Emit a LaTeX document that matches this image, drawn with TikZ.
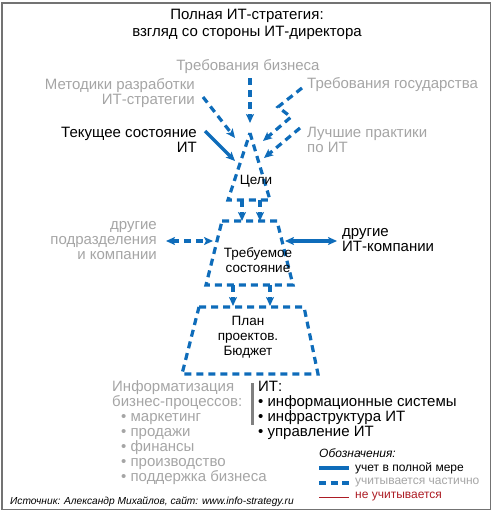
\documentclass[tikz,border=0pt]{standalone}
\usepackage{fontspec}
\setmainfont{Liberation Sans}
\usetikzlibrary{arrows.meta,positioning}
\definecolor{itblue}{RGB}{14,108,186}
\definecolor{txtgray}{RGB}{165,165,165}
\definecolor{framegray}{RGB}{115,115,115}
\definecolor{bargray}{RGB}{128,128,128}
\definecolor{legred}{RGB}{172,28,36}

\begin{document}
\begin{tikzpicture}[x=1pt,y=-1pt,
    txt/.style={inner sep=0pt, align=center, font=\fontsize{15}{15}\selectfont},
    greytxt/.style={txt, text=txtgray},
    innertxt/.style={txt, font=\fontsize{13.5}{15}\selectfont},
    legtxt/.style={inner sep=0pt, font=\fontsize{12}{14}\selectfont},
    fullline/.style={draw=itblue, line width=3.2pt},
    partline/.style={fullline, dash pattern=on 7pt off 5pt},
    arr/.style={-{Stealth[length=9pt,width=8pt,inset=2pt]}},
    darr/.style={{Stealth[length=9pt,width=8pt,inset=2pt]}-{Stealth[length=9pt,width=8pt,inset=2pt]}}]
  \useasboundingbox (0,0) rectangle (493,511);
  \draw[framegray, line width=1.6pt] (2,3) rectangle (490.5,509.5);

  % nodes
  \node[txt, font=\fontsize{15}{17}\selectfont] (title) at (247,24.5) {Полная ИТ-стратегия:\\взгляд со стороны ИТ-директора};
  \node[greytxt] (bus) at (248,67) {Требования бизнеса};
  \node[greytxt, align=right, anchor=east] (meth) at (195,93) {Методики разработки\\ИТ-стратегии};
  \node[greytxt, anchor=west] (gov) at (307,85) {Требования государства};
  \node[txt, align=right, anchor=east] (cur) at (197,140) {Текущее состояние\\ИТ};
  \node[greytxt, align=left, anchor=west] (best) at (307,140) {Лучшие практики\\по ИТ};
  \node[greytxt, align=right, anchor=east] (dept) at (157,240.5) {другие\\подразделения\\и компании};
  \node[txt, align=left, anchor=west] (itco) at (342,240.5) {другие\\ИТ-компании};

  % goals, required state, plan
  \coordinate (g1) at (250,133); \coordinate (g2) at (270,200); \coordinate (g3) at (228,200);
  \draw[partline] (g1) -- (g2) -- (g3) -- cycle;
  \node[innertxt] (goal) at (256,181) {Цели};
  \coordinate (r1) at (222,221); \coordinate (r2) at (277,221);
  \coordinate (r3) at (293,285); \coordinate (r4) at (206,285);
  \draw[partline] (r1) -- (r2) -- (r3) -- (r4) -- cycle;
  \node[innertxt] (req) at (258,260.5) {Требуемое\\состояние};
  \coordinate (p1) at (199,307); \coordinate (p2) at (304,307);
  \coordinate (p3) at (318,374); \coordinate (p4) at (182,374);
  \draw[partline] (p1) -- (p2) -- (p3) -- (p4) -- cycle;
  \node[innertxt] (plan) at (248,337.5) {План\\проектов.\\Бюджет};

  % edges
  \coordinate (bus0) at (250,78);  \coordinate (bus1) at (250,123);
  \coordinate (meth0) at (203,97); \coordinate (meth1) at (235,138);
  \coordinate (gov0) at (302,88);  \coordinate (gov1) at (263,141);
  \coordinate (best0) at (300,128); \coordinate (best1) at (264,158);
  \coordinate (cur0) at (205,131); \coordinate (cur1) at (235,161);
  \draw[partline, arr] (bus0) -- (bus1);
  \draw[partline, arr] (meth0) -- (meth1);
  \draw[partline, arr] (gov0) -- (278,107) -- (291,117) -- (gov1);
  \draw[partline, arr] (best0) -- (best1);
  \draw[fullline, arr] (cur0) -- (cur1);
  \foreach \x in {242,260} \draw[partline, arr] (\x,200) -- (\x,221);
  \foreach \x in {233,270} \draw[partline, arr] (\x,285) -- (\x,306);
  \coordinate (dept1) at (166,241); \coordinate (dept2) at (213,241);
  \coordinate (itco1) at (285,241); \coordinate (itco2) at (337,241);
  \draw[partline, darr] (dept1) -- (dept2);
  \draw[fullline, darr] (itco1) -- (itco2);

  % IT and business
  \node[greytxt, align=left, anchor=west] (biz) at (112,432.5) {Информатизация\\бизнес-процессов:\\\hspace{9pt}• маркетинг\\\hspace{9pt}• продажи\\\hspace{9pt}• финансы\\\hspace{9pt}• производство\\\hspace{9pt}• поддержка бизнеса};
  \node[txt, align=left, anchor=west] (it) at (258,410) {ИТ:\\• информационные системы\\• инфраструктура ИТ\\• управление ИТ};
  \coordinate (bar0) at (252,383); \coordinate (bar1) at (252,425);
  \draw[bargray, line width=3pt] (bar0) -- (bar1);

  % legend
  \node[legtxt, anchor=west, font=\fontsize{12}{14}\selectfont\itshape] (leg) at (319,453) {Обозначения:};
  \coordinate (l1a) at (319,468); \coordinate (l1b) at (349,468);
  \coordinate (l2a) at (319,483); \coordinate (l2b) at (349,483);
  \coordinate (l3a) at (319,497); \coordinate (l3b) at (349,497);
  \draw[fullline] (l1a) -- (l1b);
  \draw[fullline, dash pattern=on 7pt off 4.5pt] (l2a) -- (l2b);
  \draw[legred, line width=1pt] (l3a) -- (l3b);
  \node[legtxt, right=6pt of l1b] (l1t) {учет в полной мере};
  \node[legtxt, text=txtgray, right=6pt of l2b] (l2t) {учитывается частично};
  \node[legtxt, text=legred, right=6pt of l3b] (l3t) {не учитывается};

  \node[inner sep=0pt, anchor=west, font=\fontsize{10.2}{12}\selectfont\itshape] (src) at (10,502) {Источник: Александр Михайлов, сайт: www.info-strategy.ru};
\end{tikzpicture}
\end{document}
